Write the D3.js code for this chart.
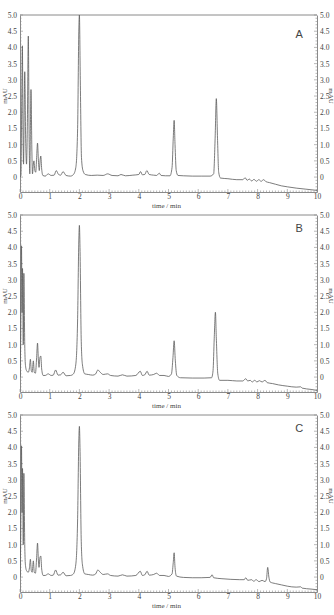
<!DOCTYPE html>
<html>
<head>
<meta charset="utf-8">
<script src="https://cdn.jsdelivr.net/npm/d3@7"></script>
<style>
  body { margin: 0; background: #fff; }
  svg text { fill: #444; }
  .tick-label { font-family: "Liberation Serif", "DejaVu Serif", serif; font-size: 7.5px; }
  .axis-title { font-family: "Liberation Serif", "DejaVu Serif", serif; font-size: 7px; }
  .panel-letter { font-family: "Liberation Sans", Arial, sans-serif; font-size: 11px; }
</style>
</head>
<body>
<div id="chart"></div>
<script>
// chromatogram traces, [time (min), signal (mAU)]
var panelNames = ["A", "B", "C"];

var traceA = [[0,0],[0.03,0.05],[0.06,2.5],[0.08,4.05],[0.1,1.5],[0.12,0.4],[0.14,2.0],[0.16,3.25],[0.19,1.2],[0.22,0.4],
  [0.25,1.8],[0.28,4.35],[0.31,1.0],[0.33,0.1],[0.35,1.5],[0.37,2.7],[0.4,0.8],[0.42,0.1],[0.45,0.4],[0.47,0.5],
  [0.5,0.2],[0.53,0.15],[0.56,0.6],[0.59,1.05],[0.62,0.5],[0.65,0.2],[0.68,0.55],[0.7,0.65],[0.73,0.25],[0.77,0.05],
  [0.85,0.03],[0.95,0.1],[1.05,0.05],[1.15,0.06],[1.22,0.2],[1.3,0.08],[1.37,0.06],[1.45,0.17],[1.55,0.05],[1.7,0.03],
  [1.8,0.08],[1.88,0.3],[1.94,1.5],[1.98,4.5],[2.0,5.0],[2.03,3.0],[2.07,0.6],[2.12,0.2],[2.2,0.08],[2.4,0.05],
  [2.6,0.06],[2.8,0.05],[2.95,0.1],[3.1,0.05],[3.3,0.04],[3.4,0.08],[3.55,0.04],[3.8,0.06],[4.0,0.08],[4.06,0.17],
  [4.12,0.07],[4.2,0.08],[4.27,0.2],[4.35,0.08],[4.5,0.06],[4.6,0.05],[4.69,0.12],[4.75,0.05],[4.9,0.04],[5.05,0.04],
  [5.12,0.3],[5.16,1.2],[5.19,1.75],[5.22,1.0],[5.26,0.2],[5.32,0.05],[5.5,0.04],[5.8,0.03],[6.1,0.03],[6.4,0.03],
  [6.52,0.1],[6.57,1.2],[6.61,2.42],[6.65,1.2],[6.69,0.15],[6.75,-0.03],[7.0,-0.05],[7.3,-0.08],[7.5,-0.08],[7.58,-0.02],
  [7.65,-0.1],[7.72,-0.06],[7.8,-0.12],[7.88,-0.07],[7.96,-0.13],[8.04,-0.08],[8.12,-0.13],[8.2,-0.08],[8.28,-0.14],[8.4,-0.17],
  [8.6,-0.22],[8.8,-0.27],[9.0,-0.3],[9.3,-0.34],[9.6,-0.37],[9.8,-0.39],[10,-0.41]];

var traceB = [[0,0],[0.02,1.0],[0.05,4.05],[0.07,2.0],[0.085,3.35],[0.11,1.0],[0.13,3.2],[0.16,1.0],[0.18,0.4],[0.22,0.2],
  [0.28,0.15],[0.32,0.3],[0.35,0.55],[0.38,0.2],[0.41,0.15],[0.45,0.5],[0.48,0.15],[0.52,0.12],[0.56,0.6],[0.59,1.05],
  [0.62,0.5],[0.64,0.3],[0.67,0.6],[0.7,0.65],[0.73,0.25],[0.78,0.05],[0.85,0.05],[0.95,0.1],[1.05,0.05],[1.12,0.06],
  [1.2,0.22],[1.28,0.06],[1.37,0.07],[1.45,0.15],[1.55,0.04],[1.7,0.05],[1.8,0.1],[1.88,0.4],[1.94,1.8],[1.98,4.2],
  [2.0,4.68],[2.02,4.0],[2.06,1.2],[2.1,0.4],[2.18,0.1],[2.3,0.08],[2.45,0.06],[2.55,0.1],[2.62,0.22],[2.7,0.15],
  [2.8,0.08],[2.95,0.1],[3.05,0.05],[3.3,0.03],[3.45,0.07],[3.6,0.03],[3.9,0.05],[4.05,0.18],[4.12,0.05],[4.2,0.07],
  [4.28,0.18],[4.35,0.06],[4.5,0.08],[4.6,0.12],[4.7,0.05],[4.85,0.05],[5.0,0.02],[5.1,0.1],[5.15,0.6],[5.19,1.12],
  [5.23,0.5],[5.28,0.05],[5.4,-0.02],[5.8,-0.03],[6.2,-0.03],[6.45,-0.02],[6.5,0.2],[6.54,1.2],[6.58,2.0],[6.61,1.2],
  [6.66,0.1],[6.72,-0.1],[7.0,-0.1],[7.3,-0.12],[7.5,-0.12],[7.6,-0.05],[7.67,-0.12],[7.75,-0.1],[7.82,-0.15],[7.9,-0.1],
  [7.98,-0.15],[8.06,-0.11],[8.15,-0.15],[8.25,-0.1],[8.32,-0.17],[8.5,-0.2],[8.7,-0.24],[9.0,-0.28],[9.3,-0.31],[9.45,-0.3],
  [9.5,-0.34],[9.8,-0.38],[10,-0.41]];

var traceC = [[0,0],[0.02,1.0],[0.05,4.05],[0.07,2.0],[0.085,3.35],[0.11,1.0],[0.13,3.2],[0.16,1.0],[0.18,0.4],[0.22,0.2],
  [0.28,0.15],[0.32,0.3],[0.35,0.55],[0.38,0.2],[0.41,0.15],[0.45,0.5],[0.48,0.15],[0.52,0.12],[0.56,0.6],[0.59,1.05],
  [0.62,0.5],[0.64,0.3],[0.67,0.6],[0.7,0.65],[0.73,0.25],[0.78,0.05],[0.85,0.05],[0.95,0.1],[1.05,0.05],[1.12,0.06],
  [1.2,0.22],[1.28,0.06],[1.37,0.07],[1.45,0.15],[1.55,0.04],[1.7,0.05],[1.8,0.1],[1.88,0.4],[1.94,1.8],[1.98,4.2],
  [2.0,4.65],[2.02,4.0],[2.06,1.2],[2.1,0.4],[2.18,0.1],[2.3,0.08],[2.45,0.06],[2.55,0.1],[2.62,0.22],[2.7,0.15],
  [2.8,0.08],[2.95,0.1],[3.05,0.05],[3.3,0.03],[3.45,0.07],[3.6,0.03],[3.9,0.05],[4.05,0.18],[4.12,0.05],[4.2,0.07],
  [4.28,0.18],[4.35,0.06],[4.5,0.08],[4.6,0.12],[4.7,0.05],[4.85,0.05],[5.0,0.02],[5.12,0.1],[5.16,0.45],[5.19,0.75],
  [5.22,0.3],[5.27,0.03],[5.5,-0.01],[5.8,-0.02],[6.1,-0.02],[6.4,-0.01],[6.47,0.07],[6.52,-0.02],[6.8,-0.05],[7.1,-0.07],
  [7.4,-0.08],[7.55,-0.08],[7.6,-0.02],[7.67,-0.1],[7.8,-0.08],[7.87,-0.13],[7.95,-0.08],[8.05,-0.14],[8.15,-0.1],[8.25,-0.14],
  [8.3,-0.05],[8.34,0.3],[8.38,0.0],[8.42,-0.15],[8.6,-0.2],[8.8,-0.24],[9.0,-0.28],[9.3,-0.31],[9.45,-0.3],[9.5,-0.34],
  [9.8,-0.37],[10,-0.39]];

var traces = [traceA, traceB, traceC];

var xTicks = [0, 1, 2, 3, 4, 5, 6, 7, 8, 9, 10];
var yTicks = [0, 0.5, 1.0, 1.5, 2.0, 2.5, 3.0, 3.5, 4.0, 4.5, 5.0];
var xLabel = "time / min";
var yLabel = "mAU";

var svgWidth = 334;
var svgHeight = 615;
var panelHeight = 200;

var margin = { top: 15, right: 17, bottom: 8, left: 20 };
var width = svgWidth - margin.left - margin.right;
var plotHeight = 177; // top of box to x-axis line

var axisColor = "#8a8a8a";
var lineColor = "#5a5a5a";

var svg = d3.select("#chart")
  .append("svg")
  .attr("width", svgWidth)
  .attr("height", svgHeight);

var x = d3.scaleLinear().domain([0, 10]).range([0, width]);
var y = d3.scaleLinear().domain([-0.46, 5.0]).range([plotHeight, 0]);

var minorX = d3.range(0, 10.001, 0.1);
var minorY = d3.range(-0.4, 5.001, 0.1);

svg.append("defs").append("clipPath")
  .attr("id", "plotClip")
  .append("rect")
  .attr("x", 0).attr("y", 0)
  .attr("width", width).attr("height", plotHeight);

var fmt = function(d) { return d === 0 ? "0" : d3.format(".1f")(d); };

traces.forEach(function(trace, i) {
  var g = svg.append("g")
    .attr("transform", `translate(${margin.left}, ${margin.top + i * panelHeight})`);

  // frame top line
  g.append("line")
    .attr("x1", 0).attr("x2", width)
    .attr("y1", 0).attr("y2", 0)
    .attr("stroke", axisColor).attr("stroke-width", 1);

  // bottom axis
  var bottomAxis = d3.axisBottom(x).tickValues(xTicks).tickSize(0).tickPadding(2).tickFormat(d3.format("d"));
  var xAxis = g.append("g")
    .attr("transform", `translate(0, ${plotHeight})`)
    .call(bottomAxis);

  // left and right axes
  var leftAxis = d3.axisLeft(y).tickValues(yTicks).tickSize(0).tickPadding(3).tickFormat(fmt);
  var rightAxis = d3.axisRight(y).tickValues(yTicks).tickSize(0).tickPadding(3).tickFormat(fmt);
  var yAxisL = g.append("g").call(leftAxis);
  var yAxisR = g.append("g").attr("transform", `translate(${width}, 0)`).call(rightAxis);

  [xAxis, yAxisL, yAxisR].forEach(function(ax) {
    ax.select(".domain").attr("stroke", axisColor);
    ax.selectAll("text").attr("class", "tick-label").attr("fill", "#444");
  });

  // minor ticks pointing inward
  g.append("g").selectAll("line")
    .data(minorX)
    .enter().append("line")
    .attr("x1", d => x(d)).attr("x2", d => x(d))
    .attr("y1", plotHeight).attr("y2", d => plotHeight - (Math.abs(d - Math.round(d)) < 1e-6 ? 3 : 1.5))
    .attr("stroke", axisColor).attr("stroke-width", 0.6);

  g.append("g").selectAll("line")
    .data(minorY)
    .enter().append("line")
    .attr("x1", 0).attr("x2", d => (Math.abs(d * 2 - Math.round(d * 2)) < 1e-6 ? 3 : 1.5))
    .attr("y1", d => y(d)).attr("y2", d => y(d))
    .attr("stroke", axisColor).attr("stroke-width", 0.6);

  g.append("g").selectAll("line")
    .data(minorY)
    .enter().append("line")
    .attr("x1", width).attr("x2", d => width - (Math.abs(d * 2 - Math.round(d * 2)) < 1e-6 ? 3 : 1.5))
    .attr("y1", d => y(d)).attr("y2", d => y(d))
    .attr("stroke", axisColor).attr("stroke-width", 0.6);

  // trace
  var line = d3.line()
    .x(d => x(d[0]))
    .y(d => y(d[1]))
    .curve(d3.curveMonotoneX);

  g.append("path")
    .datum(trace)
    .attr("clip-path", "url(#plotClip)")
    .attr("fill", "none")
    .attr("stroke", lineColor)
    .attr("stroke-width", 0.8)
    .attr("d", line);

  // axis titles
  g.append("text")
    .attr("class", "axis-title")
    .attr("x", width / 2 - 2)
    .attr("y", plotHeight + 15.5)
    .attr("text-anchor", "middle")
    .text(xLabel);

  g.append("text")
    .attr("class", "axis-title")
    .attr("transform", `translate(${-13}, ${y(2.5)}) rotate(-90)`)
    .attr("text-anchor", "middle")
    .text(yLabel);

  g.append("text")
    .attr("class", "axis-title")
    .attr("font-size", "6px")
    .attr("transform", `translate(${width + 11.5}, ${y(2.5)}) rotate(90)`)
    .attr("text-anchor", "middle")
    .text(yLabel);

  // panel letter
  g.append("text")
    .attr("class", "panel-letter")
    .attr("x", x(9.4))
    .attr("y", i === 0 ? 23 : 17)
    .attr("text-anchor", "middle")
    .text(panelNames[i]);
});
</script>
</body>
</html>
